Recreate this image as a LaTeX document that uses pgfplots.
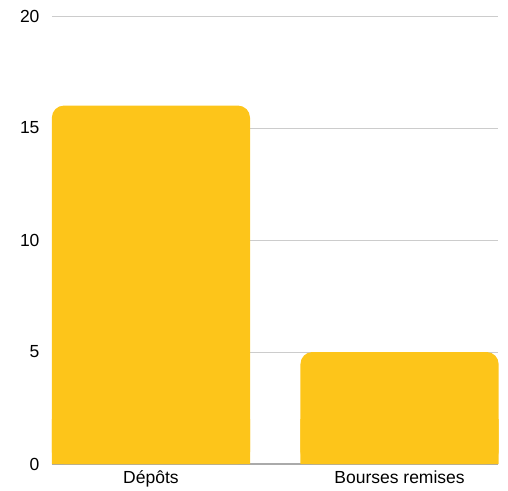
\documentclass[border=0pt]{standalone}
\usepackage{fontspec}
\setmainfont{Liberation Sans}
\usepackage{pgfplots}
\pgfplotsset{compat=1.18}
\definecolor{baryel}{HTML}{FDC51A}
\definecolor{gridg}{HTML}{CCCCCC}
\definecolor{axg}{HTML}{AAAAAA}
\begin{document}
\begin{tikzpicture}
\begin{axis}[
  scale only axis, width=446pt, height=448pt,
  at={(0,0)}, anchor=south west,
  xmin=-0.398, xmax=1.396, ymin=0, ymax=20,
  ytick={0,5,10,15,20},
  xtick={0,1}, xticklabels={Dépôts, Bourses remises},
  axis y line*=left,
  axis x line*=bottom,
  y axis line style={draw=none},
  x axis line style={draw=axg, line width=1.2pt, -},
  ymajorgrids, grid style={draw=gridg, line width=0.8pt},
  major tick length=0pt,
  tick label style={font=\fontsize{17.5}{20}\selectfont, text=black},
  yticklabel style={xshift=-9pt},
  xticklabel style={yshift=-3pt},
  ybar, bar width=0.797, bar shift=0pt,
  /pgf/number format/assume math mode=true,
  clip=false,
]
\addplot[fill=baryel, draw=none, rounded corners=12pt] coordinates {(0,16) (1,5)};
\addplot[fill=baryel, draw=none, forget plot] coordinates {(0,2) (1,2)};
\end{axis}
\path[use as bounding box] (-52pt,-24pt) rectangle (456pt,464pt);
\end{tikzpicture}
\end{document}
